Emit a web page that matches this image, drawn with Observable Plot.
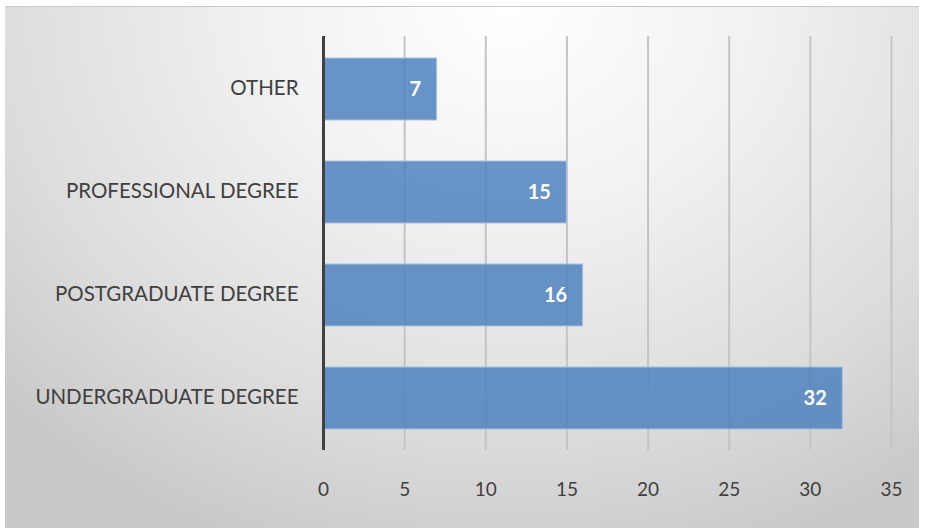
<!DOCTYPE html>
<html>
<head>
<meta charset="utf-8">
<script src="https://cdn.jsdelivr.net/npm/d3@7"></script>
<script src="https://cdn.jsdelivr.net/npm/@observablehq/plot@0.6"></script>
<style>
  html, body { margin: 0; padding: 0; background: #ffffff; }
  #wrap { position: relative; width: 925px; height: 531px; overflow: hidden; }
  #bg { position: absolute; left: 5px; top: 6px; width: 914px; height: 521px;
        background: radial-gradient(ellipse 75% 110% at 55% 0%, #ffffff 0%, #f2f2f2 35%, #dcdcdc 75%, #c9c9c9 100%);
        border-top: 1px solid #c8c8c8; }
  #chart { position: absolute; left: 0; top: 0; }
</style>
</head>
<body>
<div id="wrap"><div id="bg"></div><div id="chart"></div></div>
<script>
const categories = ["OTHER", "PROFESSIONAL DEGREE", "POSTGRADUATE DEGREE", "UNDERGRADUATE DEGREE"];
const values = [7, 15, 16, 32];
const xTicks = [0, 5, 10, 15, 20, 25, 30, 35];

const data = categories.map((c, i) => ({category: c, value: values[i]}));
const font = "Lato, 'Open Sans', sans-serif";

const chart = Plot.plot({
  width: 925,
  height: 531,
  marginLeft: 323,
  marginRight: 34,
  marginTop: 36,
  marginBottom: 81,
  style: {background: "transparent", fontFamily: font, fontSize: "18px", color: "#404040"},
  x: {domain: [0, 35], ticks: xTicks, label: null},
  y: {domain: categories, paddingInner: 0.4, paddingOuter: 0.2, label: null},
  marks: [
    Plot.gridX(xTicks.filter(d => d > 0), {stroke: "#c4c4c4", strokeWidth: 2, strokeOpacity: 1}),
    Plot.axisX(xTicks, {tickSize: 0, tickPadding: 32, fontSize: 19, fill: "#404040", tickFormat: d => d}),
    Plot.axisY({tickSize: 0, tickPadding: 25, fontSize: 20.5, fill: "#404040", dy: -1}),
    Plot.barX(data, {x: "value", y: "category", fill: "#4f81bd", fillOpacity: 0.85, stroke: "#a9c1e0", strokeWidth: 1}),
    Plot.ruleX([0], {stroke: "#404040", strokeWidth: 3}),
    Plot.text(data, {x: "value", y: "category", text: d => String(d.value), textAnchor: "end", dx: -16, fill: "#ffffff", fontWeight: "bold", fontSize: 20})
  ]
});
document.getElementById("chart").appendChild(chart);
</script>
</body>
</html>
